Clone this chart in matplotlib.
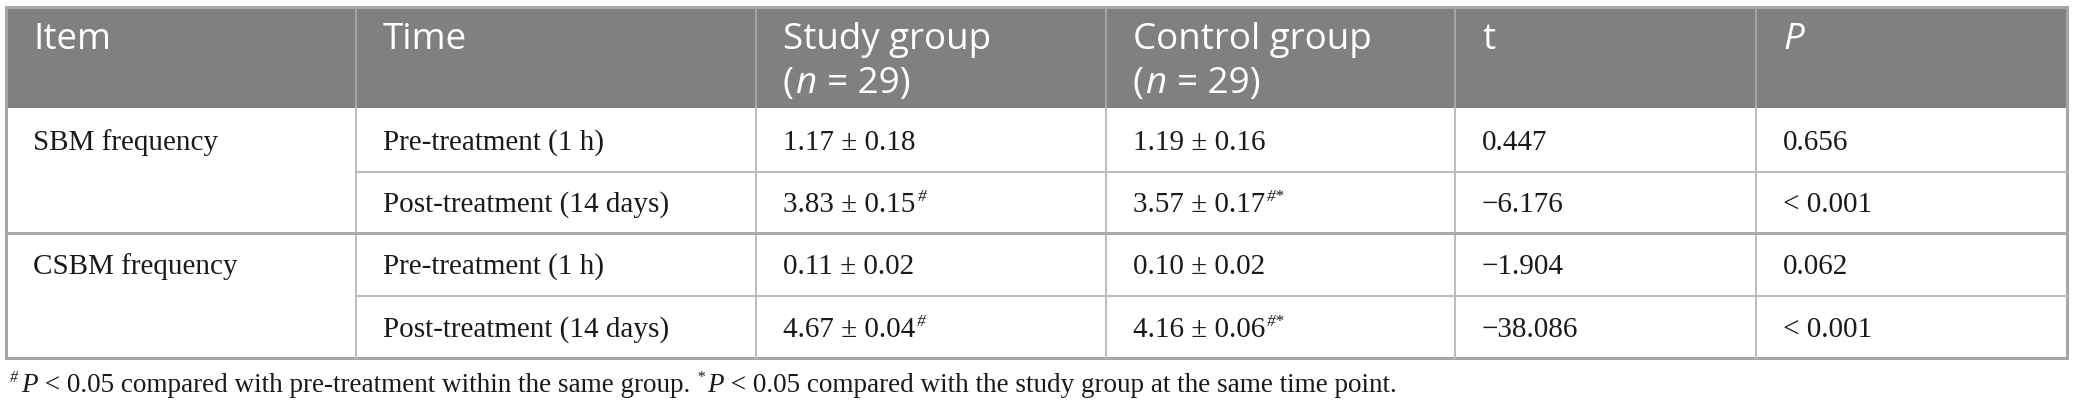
import matplotlib
matplotlib.use("Agg")
import matplotlib.pyplot as plt
from matplotlib.patches import Rectangle

# table content
headers = ["Item", "Time", "Study group", "Control group", "t", "P"]
group_n = [29, 29]
items = ["SBM frequency", "CSBM frequency"]
times = ["Pre-treatment (1 h)", "Post-treatment (14 days)"]
study = ["1.17 ± 0.18", "3.83 ± 0.15", "0.11 ± 0.02", "4.67 ± 0.04"]
study_marks = ["", "#", "", "#"]
control = ["1.19 ± 0.16", "3.57 ± 0.17", "0.10 ± 0.02", "4.16 ± 0.06"]
control_marks = ["", "#*", "", "#*"]
t_vals = ["0.447", "\u22126.176", "\u22121.904", "\u221238.086"]
p_vals = ["0.656", "< 0.001", "0.062", "< 0.001"]
note_1 = " < 0.05 compared with pre-treatment within the same group."
note_2 = " < 0.05 compared with the study group at the same time point."

W, H = 2075, 415
col_x = [6, 356, 756, 1106, 1455, 1756, 2067]
row_y = [7, 108, 172, 233, 296, 358]
pad = 27

head_font = dict(family="Open Sans", size=26.5, color="white")
body_font = dict(family="Liberation Serif", size=21, color="#1a1a1a")
sup_font = dict(family="Liberation Serif", size=12.5, style="italic", color="#1a1a1a")
px = 72 / 100  # points per pixel

fig = plt.figure(figsize=(W / 100, H / 100), dpi=100)
ax = fig.add_axes([0, 0, 1, 1])
ax.set_xlim(0, W)
ax.set_ylim(H, 0)
ax.axis("off")
renderer = fig.canvas.get_renderer()
inv = ax.transData.inverted()


def runs(x, y, parts):
    # parts: (text, font, gap before in px, vertical shift in px)
    for s, kw, gap, dy in parts:
        x += gap
        t = ax.text(x, y + dy, s, ha="left", va="baseline", **kw)
        bb = t.get_window_extent(renderer=renderer)
        x = inv.transform((bb.x1, bb.y0))[0]
    return x


# header band
ax.add_patch(Rectangle((col_x[0], row_y[0]), col_x[-1] - col_x[0], row_y[1] - row_y[0],
                       facecolor="#808080", edgecolor="none"))
for x in col_x[1:-1]:
    ax.plot([x, x], [row_y[0], row_y[1]], color="#a5a5a5", lw=2 * px)
    ax.plot([x, x], [row_y[1], row_y[-1]], color="#bdbdbd", lw=2 * px)
for y in (row_y[2], row_y[4]):
    ax.plot([col_x[1], col_x[-1]], [y, y], color="#bdbdbd", lw=2 * px)
ax.plot([col_x[0], col_x[-1]], [row_y[3], row_y[3]], color="#aaaaaa", lw=3 * px)
ax.add_patch(Rectangle((col_x[0], row_y[0]), col_x[-1] - col_x[0], row_y[-1] - row_y[0],
                       fill=False, edgecolor="#a6a6a6", lw=3 * px))

# header text
line1, line2 = 49, 93
for i, h in enumerate(headers):
    kw = dict(head_font)
    if h == "P":
        kw["style"] = "italic"
    ax.text(col_x[i] + pad, line1, h, ha="left", va="baseline", **kw)
for i, n in zip((2, 3), group_n):
    runs(col_x[i] + pad, line2, [("(", head_font, 0, 0),
                                 ("n", dict(head_font, style="italic"), 1, 0),
                                 ("= %d)" % n, head_font, 11, 0)])

# body
centers = [(row_y[k] + row_y[k + 1]) / 2 for k in range(1, 5)]
base = [c + 9.5 for c in centers]
for j, it in enumerate(items):
    ax.text(col_x[0] + pad, base[2 * j], it, ha="left", va="baseline", **body_font)
for r in range(4):
    y = base[r]
    ax.text(col_x[1] + pad, y, times[r % 2], ha="left", va="baseline", **body_font)
    runs(col_x[2] + pad, y, [(study[r], body_font, 0, 0)] +
         ([(study_marks[r], sup_font, 2, -11)] if study_marks[r] else []))
    runs(col_x[3] + pad, y, [(control[r], body_font, 0, 0)] +
         ([(control_marks[r], sup_font, 2, -11)] if control_marks[r] else []))
    ax.text(col_x[4] + pad, y, t_vals[r], ha="left", va="baseline", **body_font)
    ax.text(col_x[5] + pad, y, p_vals[r], ha="left", va="baseline", **body_font)

# footnote
note_font = dict(family="Liberation Serif", size=19.5, color="#1a1a1a")
note_sup = dict(family="Liberation Serif", size=11.5, style="italic", color="#1a1a1a")
note_it = dict(note_font, style="italic")
fy = 392
x = runs(10, fy, [("#", note_sup, 0, -10), ("P", note_it, 3, 0), (note_1, note_font, 0, 0)])
runs(x, fy, [("*", note_sup, 7, -10), ("P", note_it, 2, 0), (note_2, note_font, 0, 0)])

fig.savefig("out.png", dpi=100)
